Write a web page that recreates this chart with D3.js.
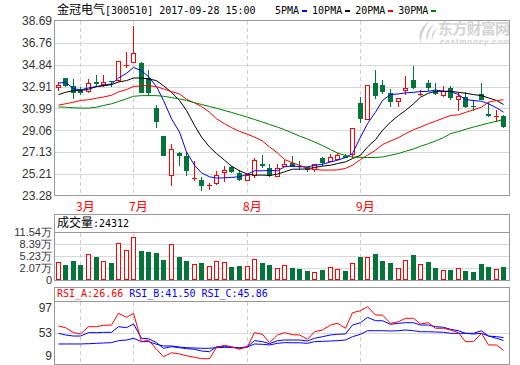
<!DOCTYPE html>
<html>
<head>
<meta charset="utf-8">
<script src="https://cdn.jsdelivr.net/npm/d3@7"></script>
<style>
body { margin: 0; background: #fff; }
svg { display: block; }
text { font-family: "Liberation Sans", Arial, sans-serif; font-size: 12px; fill: #333; }
.mono { font-family: "DejaVu Sans Mono", monospace; font-size: 10px; fill: #000; }
.cjk { font-family: "Noto Sans CJK SC", sans-serif; font-size: 12px; }
.vlab { font-size: 11px; }
</style>
</head>
<body>
<svg id="chart" width="520" height="365"></svg>
<script>
// daily candles, oldest first
var open  = [32.85,33.70,32.97,32.56,32.41,33.29,33.06,33.44,33.44,34.73,35.01,34.95,33.67,31.05,28.53,25.08,27.07,26.78,24.71,24.68,
             24.16,24.37,25.27,25.79,25.34,24.65,24.99,26.14,25.71,24.99,25.85,26.20,25.93,25.82,25.56,26.63,26.32,26.43,26.78,26.90,
             31.51,30.02,33.20,33.09,32.33,31.54,32.50,33.53,32.21,33.20,32.56,32.06,32.76,31.80,31.98,31.19,32.27,30.52,30.17,30.29];
var high  = [33.35,33.70,33.55,32.85,33.55,33.96,33.96,33.44,35.19,36.00,38.25,35.04,34.40,31.25,28.55,27.83,27.16,27.16,26.34,24.99,
             24.44,25.47,25.91,25.93,25.56,25.20,26.65,26.87,26.08,26.08,26.49,26.78,26.37,25.85,26.14,26.72,27.02,27.07,27.00,29.30,
             31.98,33.06,34.40,33.53,32.71,31.92,33.88,34.75,32.62,33.50,33.26,33.00,33.00,32.47,32.41,31.69,33.20,31.54,30.87,30.37];
var low   = [32.50,32.90,31.80,32.21,32.33,32.85,32.85,32.91,33.29,34.51,35.01,32.33,32.12,29.26,26.78,24.18,25.93,25.06,24.64,23.74,
             23.85,24.29,24.53,25.27,24.62,24.62,24.90,25.71,24.92,24.99,25.79,25.79,25.56,25.41,25.41,25.93,26.28,26.43,26.60,26.63,
             29.70,29.93,31.83,32.27,31.10,31.16,32.21,32.71,32.12,32.50,32.21,32.04,31.69,30.75,31.05,30.75,31.69,30.22,29.79,29.26];
var close = [33.09,32.97,32.33,32.41,33.24,33.15,33.35,33.35,35.19,34.84,35.86,32.34,32.39,29.79,26.81,27.46,26.83,25.50,24.83,24.18,
             24.22,25.15,25.53,25.34,24.68,25.15,26.43,25.97,25.03,25.76,26.14,25.82,25.85,25.56,26.08,26.20,26.72,26.87,26.63,29.30,
             30.14,33.06,32.06,32.47,31.51,31.92,32.76,32.85,32.27,32.74,32.27,32.50,31.91,32.12,31.10,31.10,31.77,30.37,30.29,29.35];
// volume in 万 shares
var volume = [3.67,2.94,4.02,2.94,5.82,5.09,3.93,3.48,8.77,6.89,10.38,6.70,6.43,5.98,4.28,8.50,5.09,4.02,3.13,3.48,
              2.59,3.93,3.67,2.40,2.67,2.59,4.47,3.48,2.94,2.05,2.86,2.13,1.87,1.33,1.14,1.60,2.32,1.79,1.33,3.40,
              5.09,5.01,5.90,4.02,3.48,2.05,4.20,5.63,3.13,3.75,2.13,1.52,1.60,2.05,1.33,1.06,3.21,2.40,1.79,2.4312];
// moving averages as drawn
var ma5  = [33.22,33.29,32.74,32.62,32.80,32.91,33.03,33.15,33.67,34.08,34.60,34.31,33.79,32.91,31.69,30.08,28.91,27.16,25.99,25.32,
            24.97,24.86,24.88,24.92,24.97,25.21,25.50,25.50,25.53,25.50,25.85,25.93,25.85,25.85,25.97,26.08,26.28,26.43,26.67,27.02,
            28.47,29.65,30.66,31.69,32.21,32.27,32.36,32.41,32.47,32.50,32.62,32.50,32.47,32.21,31.77,31.69,31.62,31.40,31.05,30.66];
var ma10 = [32.21,32.41,32.56,32.56,32.68,32.91,32.99,33.09,33.32,33.44,33.67,33.67,33.59,33.44,32.99,32.41,31.69,30.81,29.50,28.47,
            27.60,27.02,26.43,25.91,25.50,25.21,25.12,25.12,25.09,25.21,25.41,25.64,25.64,25.67,25.79,25.91,25.99,26.14,26.28,26.58,
            26.87,27.60,28.24,29.06,29.79,30.37,30.81,31.40,31.98,32.33,32.50,32.50,32.50,32.41,32.33,32.21,32.12,31.92,31.69,31.34];
var ma20 = [31.28,31.40,31.54,31.69,31.76,31.89,32.00,32.15,32.45,32.65,32.92,32.99,33.00,32.91,32.71,32.47,32.27,31.80,31.48,31.16,
            30.66,30.08,29.65,29.30,28.97,28.71,28.47,28.12,27.60,27.07,26.49,26.20,25.99,25.71,25.62,25.56,25.56,25.58,25.71,25.99,
            26.49,26.87,27.31,27.81,28.12,28.42,28.77,29.12,29.35,29.65,29.87,30.14,30.37,30.43,30.64,30.87,31.10,31.54,31.69,31.75];
var ma30 = [31.12,31.10,31.05,31.02,31.02,31.10,31.25,31.40,31.60,31.84,32.06,32.12,32.12,32.12,32.06,31.95,31.82,31.70,31.50,31.34,
            31.16,31.01,30.81,30.64,30.43,30.22,30.02,29.79,29.58,29.35,29.12,28.82,28.56,28.30,28.03,27.72,27.37,27.07,26.84,26.72,
            26.67,26.67,26.67,26.72,26.87,27.02,27.22,27.42,27.66,27.89,28.12,28.42,28.77,28.95,29.15,29.35,29.53,29.70,29.86,30.02];
// RSI lines
var rsiA = [63.3,60.8,53.3,51.3,62.3,62.3,64.4,64.8,82.5,76.4,82.5,39.7,42.2,28.2,17.0,23.0,21.1,18.5,16.1,14.0,
            14.0,31.2,34.2,32.1,28.2,32.1,53.3,50.8,38.2,49.8,53.3,50.2,49.8,43.3,54.7,57.3,64.8,67.4,59.9,83.4,
            86.4,92.5,79.9,79.9,67.4,69.8,74.9,74.9,66.4,68.3,59.9,59.9,57.3,53.3,39.7,39.7,52.3,34.7,34.7,26.66];
var rsiB = [52.3,49.8,48.2,48.2,53.3,53.3,53.8,53.8,62.3,60.8,66.4,44.8,44.2,38.2,29.7,32.1,30.6,29.1,28.2,25.6,
            24.5,32.1,32.1,31.2,29.7,32.1,41.2,39.7,36.6,41.2,42.2,42.2,42.2,40.7,44.8,47.2,49.8,50.8,51.3,64.8,
            68.3,76.4,71.3,71.3,65.9,67.4,68.3,68.3,64.8,64.8,62.3,61.4,58.4,56.2,52.3,52.3,56.2,48.2,44.8,41.50];
var rsiC = [36.2,36.2,36.2,36.2,36.6,37.2,37.7,38.2,41.2,42.2,44.8,39.7,39.7,35.7,33.2,33.2,31.6,30.6,30.1,29.7,
            29.7,30.6,31.2,31.2,30.6,31.6,36.2,35.7,34.7,37.2,38.2,38.0,38.0,37.2,39.7,40.2,40.7,41.2,42.2,47.2,
            50.8,56.2,56.2,56.2,55.8,56.2,57.3,56.2,54.7,54.7,54.3,53.8,52.3,52.3,52.3,51.3,52.3,48.2,47.2,45.86];

var priceTicks = [38.69,36.76,34.84,32.91,30.99,29.06,27.13,25.21,23.28];
var volTicks = [11.54,8.39,5.23,2.07];
var volLabels = ["11.54万","8.39万","5.23万","2.07万"];
var volFloor = -1.09;   // axis bottom, labelled "0"
var rsiTicks = [97,53,9];
var monthStarts = [3,10,25,40];
var monthLabels = ["3月","7月","8月","9月"];

var title = "[300510] 2017-09-28 15:00";
var legendNames = ["5PMA","10PMA","20PMA","30PMA"];

var UP = "#ff0000", DOWN = "#03743a", FRAME = "#999", GRID = "#d8d8d8";
var maColors = ["#0000ff","#000000","#ff0000","#008000"];

var svg = d3.select("#chart");
var left = 55, right = 510;
var idx = d3.range(close.length);

var x = d3.scaleBand().domain(idx).range([54.5, 507.5]);
function cx(i) { return Math.floor(x(i) + x.bandwidth() / 2) + 0.5; }
function px(v) { return Math.round(v) + 0.5; }

var y = d3.scaleLinear().domain([23.28, 38.69]).range([196, 21]);
var yV = d3.scaleLinear().domain([volFloor, 11.54]).range([280, 232.5]);
var yR = d3.scaleLinear().domain([9, 97]).range([362, 303.7]);

// ---------- frames and grids
function vDashes(top, bottom) {
  svg.append("g").selectAll("line").data(monthStarts).enter().append("line")
    .attr("x1", d => cx(d)).attr("x2", d => cx(d))
    .attr("y1", top).attr("y2", bottom)
    .attr("stroke", "#cfcfcf").attr("stroke-dasharray", "4,3");
}
function hGrid(vals, scale) {
  svg.append("g").selectAll("line").data(vals).enter().append("line")
    .attr("x1", left).attr("x2", right)
    .attr("y1", d => px(scale(d))).attr("y2", d => px(scale(d)))
    .attr("stroke", GRID);
}

// main panel
hGrid(priceTicks.slice(1, -1), y);
vDashes(21, 195);
svg.append("g").selectAll("text").data(priceTicks).enter().append("text")
  .attr("x", 52).attr("y", d => y(d)).attr("dy", "0.35em")
  .attr("text-anchor", "end").text(d => d.toFixed(2));

// volume panel
hGrid(volTicks.slice(1), yV);
vDashes(233, 279);
svg.append("g").selectAll("text").data(volTicks).enter().append("text")
  .attr("class", "vlab")
  .attr("x", 52).attr("y", d => yV(d)).attr("dy", "0.35em")
  .attr("text-anchor", "end").text((d, i) => volLabels[i]);
svg.append("text").attr("class", "vlab").attr("x", 52).attr("y", yV(volFloor)).attr("dy", "0.35em")
  .attr("text-anchor", "end").text("0");

// rsi panel
hGrid([53], yR);
vDashes(302, 364);
svg.append("g").selectAll("text").data(rsiTicks).enter().append("text")
  .attr("x", 52).attr("y", d => Math.max(308, Math.min(356, yR(d)))).attr("dy", "0.35em")
  .attr("text-anchor", "end").text(d => d);

// month labels
svg.append("g").selectAll("text").data(monthStarts).enter().append("text")
  .attr("class", "cjk").attr("x", d => cx(d) - 4.5).attr("y", 211)
  .style("fill", "#ff0000")
  .text((d, i) => monthLabels[i]);

// watermark
var wm = svg.append("g").attr("fill", "#d4d4d4");
wm.append("path")
  .attr("d", "M430,21 C421,26 417,34 421,43 C421,35 424,28 430,21 Z M434,24 C427,29 425,35 427,41 C428,35 430,30 434,24 Z M437,28 C432,32 431,36 432,40 C433,36 435,32 437,28 Z")
  .attr("fill", "#d4d4d4");
wm.append("text").attr("class", "cjk").attr("x", 438).attr("y", 34)
  .attr("textLength", 72).style("font-size", "15px").style("font-weight", "bold").style("fill", "#d4d4d4")
  .text("东方财富网");
wm.append("text").attr("x", 440).attr("y", 44)
  .attr("textLength", 70).style("font-size", "8px").style("font-weight", "bold")
  .style("font-style", "italic").style("fill", "#d4d4d4")
  .text("eastmoney.com");

// ---------- candles
var candles = svg.append("g").attr("shape-rendering", "crispEdges");
var cg = candles.selectAll("g").data(idx).enter().append("g");
cg.append("line")
  .attr("x1", cx).attr("x2", cx)
  .attr("y1", i => y(high[i])).attr("y2", i => y(low[i]))
  .attr("stroke", i => close[i] >= open[i] ? UP : DOWN);
cg.each(function(i) {
  var g = d3.select(this);
  var top = y(Math.max(open[i], close[i])), bot = y(Math.min(open[i], close[i]));
  var h = Math.max(1, Math.round(bot - top));
  if (close[i] >= open[i]) {
    if (h <= 1) {
      g.append("rect").attr("x", cx(i) - 2.5).attr("y", Math.round(top)).attr("width", 5).attr("height", 1).attr("fill", UP);
    } else {
      g.append("rect").attr("x", cx(i) - 2).attr("y", Math.round(top) + 0.5)
        .attr("width", 4).attr("height", h - 1)
        .attr("fill", "#fff").attr("stroke", UP);
    }
  } else {
    g.append("rect").attr("x", cx(i) - 2.5).attr("y", Math.round(top))
      .attr("width", 5).attr("height", h).attr("fill", DOWN);
  }
});

// moving averages
[ma5, ma10, ma20, ma30].forEach(function(series, k) {
  svg.append("path").datum(series)
    .attr("d", d3.line().x((d, i) => cx(i)).y(d => y(d)))
    .attr("fill", "none").attr("stroke", maColors[k]).attr("stroke-width", 1);
});

// ---------- volume bars
var vb = svg.append("g").attr("shape-rendering", "crispEdges");
vb.selectAll("rect").data(idx).enter().append("rect")
  .attr("x", i => close[i] >= open[i] ? cx(i) - 2 : cx(i) - 2.5)
  .attr("y", i => close[i] >= open[i] ? Math.round(yV(volume[i])) + 0.5 : Math.round(yV(volume[i])))
  .attr("width", i => close[i] >= open[i] ? 4 : 5)
  .attr("height", i => close[i] >= open[i] ? 280 - Math.round(yV(volume[i])) - 1 : 280 - Math.round(yV(volume[i])))
  .attr("fill", i => close[i] >= open[i] ? "#fff" : DOWN)
  .attr("stroke", i => close[i] >= open[i] ? UP : "none");

// ---------- rsi lines
[[rsiC, "#0000ff"], [rsiB, "#0000ff"], [rsiA, "#ff0000"]].forEach(function(s) {
  svg.append("path").datum(s[0])
    .attr("d", d3.line().x((d, i) => cx(i)).y(d => yR(d)))
    .attr("fill", "none").attr("stroke", s[1]).attr("stroke-width", 1);
});

// ---------- frames
var frames = svg.append("g").attr("fill", "none").attr("stroke", FRAME).attr("shape-rendering", "crispEdges");
frames.append("rect").attr("x", 54.5).attr("y", 20.5).attr("width", 455).attr("height", 175);
frames.append("rect").attr("x", 54.5).attr("y", 214.5).attr("width", 455).attr("height", 65.5);
frames.append("line").attr("x1", 54.5).attr("x2", 509.5).attr("y1", 232.5).attr("y2", 232.5);
frames.append("rect").attr("x", 54.5).attr("y", 287.5).attr("width", 455).attr("height", 77);
frames.append("line").attr("x1", 54.5).attr("x2", 509.5).attr("y1", 301.5).attr("y2", 301.5);

// ---------- header texts
var t = svg.append("text").attr("x", 57).attr("y", 14);
t.append("tspan").attr("class", "cjk").style("fill", "#000").text("金冠电气");
t.append("tspan").attr("class", "mono").text(title);

var lx = 275;
legendNames.forEach(function(name, k) {
  svg.append("text").attr("class", "mono").attr("x", lx).attr("y", 14).text(name);
  lx += name.length * 6.02 + 3;
  svg.append("rect").attr("x", Math.round(lx)).attr("y", 10).attr("width", 5).attr("height", 2)
    .attr("fill", maColors[k]);
  lx += 10;
});

var vt = svg.append("text").attr("x", 57).attr("y", 227);
vt.append("tspan").attr("class", "cjk").style("fill", "#000").text("成交量");
vt.append("tspan").attr("class", "mono").text(":" + Math.round(volume[volume.length - 1] * 10000));

var rsiNames = [["RSI_A", rsiA, "#ff0000"], ["RSI_B", rsiB, "#0000ff"], ["RSI_C", rsiC, "#0000ff"]];
rsiNames.forEach(function(r, k) {
  svg.append("text").attr("class", "mono").attr("x", 57 + k * 12 * 6.02).attr("y", 297)
    .style("fill", r[2]).text(r[0] + ":" + r[1][r[1].length - 1].toFixed(2));
});
</script>
</body>
</html>
